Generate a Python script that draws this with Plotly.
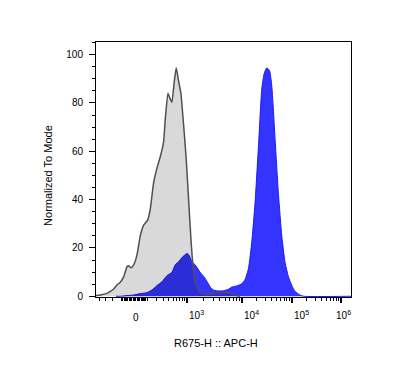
import numpy as np
import plotly.graph_objects as go

# ---- data (display-channel bins of the biexponential APC-H scale) ----
gray_ch = [0, 4.3, 11, 14.3, 17.7, 21, 24.3, 27.7, 31, 32.7, 35, 37.7, 41, 44.3, 47.7,
           51.7, 54.3, 57.7, 61, 64.3, 67.7, 69.3, 72, 74, 76, 78.3, 80.3, 82.7, 85, 87.5,
           90.3, 92.7, 95, 97, 99.3, 102.7, 106, 111, 117.7, 124.3, 131, 134.3, 139.3, 144.3]
gray_y = [0.3, 0.5, 1.2, 2, 3, 4.7, 5.8, 8, 12.2, 12.6, 11.8, 13, 17, 25, 29.4,
          31.5, 36, 47, 53, 57.6, 64, 73, 84, 82, 80.3, 88.6, 94.5, 89, 84, 72,
          57, 40, 24, 13, 6, 2.2, 1.2, 0.8, 1, 1.5, 1.6, 1.2, 0.5, 0]

blue_ch = [20, 24.3, 31, 37.7, 44.3, 51, 56, 61, 66, 71, 76, 79.3, 82.7, 86, 91,
           92.7, 96, 99.3, 104.3, 109.3, 112, 115, 118, 123, 128, 133, 136, 141, 146, 149.3,
           152.7, 156, 159.3, 162.7, 166, 168.3, 171, 173.7, 176, 179.3, 182.7, 186, 189.3,
           192.7, 196, 199.3, 204.3, 208, 255.3]
blue_y = [0, 0, 0.3, 0.5, 1.1, 1.5, 2.6, 4.4, 6, 8.5, 9.9, 13, 14.3, 16, 17.7,
          17.3, 14.3, 13, 9.9, 7.4, 5.5, 3.5, 2.5, 2.2, 2.3, 3, 3.8, 4.3, 5.2, 7,
          11.6, 22.6, 39, 62.4, 85.8, 92, 94.5, 93.4, 87, 65, 42, 25, 14,
          8, 4.5, 2, 0.5, 0, 0]

# axis scale definition: decade values and their display channels
decade_values = [0, 1e3, 1e4, 1e5, 1e6]
decade_channels = [38.5, 91, 146, 196, 245.3]
x_tick_labels = ["0", "10<sup>3</sup>", "10<sup>4</sup>", "10<sup>5</sup>", "10<sup>6</sup>"]
y_tick_values = [0, 20, 40, 60, 80, 100]
LIN_W = 150.0


def to_channel(v):
    c0, c3 = decade_channels[0], decade_channels[1]
    if v <= 1000:
        return c0 + (c3 - c0) * np.arcsinh(v / LIN_W) / np.arcsinh(1000 / LIN_W)
    n = int(np.floor(np.log10(v)))
    i = n - 3 + 1
    lo, hi = decade_channels[i], decade_channels[min(i + 1, len(decade_channels) - 1)]
    return lo + (np.log10(v) - n) * (hi - lo)


minor_vals = ([-500, -400, -300, -200, -100] + list(range(-90, 100, 10)) +
              list(range(100, 1000, 100)) +
              [k * 10 ** n for n in (3, 4, 5) for k in range(2, 10)])
x_min = 0.0
x_max = 255.3
minor_ch = [to_channel(v) for v in minor_vals]
minor_ch = [c for c in minor_ch if x_min <= c <= x_max]
major_ch = [to_channel(v) for v in decade_values[1:]]

fig = go.Figure()
fig.add_trace(go.Scatter(
    x=blue_ch, y=blue_y, mode="lines", fill="tozeroy",
    line=dict(color="rgb(25,25,255)", width=1, shape="spline", smoothing=0.5),
    fillcolor="rgb(52,52,255)", showlegend=False, hoverinfo="skip"))
fig.add_trace(go.Scatter(
    x=gray_ch, y=gray_y, mode="lines", fill="tozeroy",
    line=dict(color="rgb(80,80,80)", width=1.5, shape="spline", smoothing=0.4),
    fillcolor="rgba(0,0,0,0.15)", showlegend=False, hoverinfo="skip"))

label_font = dict(family="Liberation Sans Narrow, Arial Narrow, Liberation Sans, Arial", size=10, color="black")

fig.update_xaxes(
    range=[x_min, x_max], showgrid=False, zeroline=False,
    showline=True, mirror=True, linecolor="black", linewidth=1,
    tickmode="array", tickvals=major_ch, ticks="outside", ticklen=5, tickwidth=1.5,
    tickcolor="black", showticklabels=False,
    minor=dict(tickmode="array", tickvals=minor_ch, ticks="outside", ticklen=3,
               tickwidth=1, tickcolor="black", showgrid=False))
fig.update_yaxes(
    range=[-0.3, 105.2], showgrid=False, zeroline=False,
    showline=True, mirror=True, linecolor="black", linewidth=1,
    tickmode="array", tickvals=y_tick_values, ticks="outside", ticklen=6, tickwidth=1,
    tickcolor="black", tickfont=label_font, ticklabelstandoff=4,
    minor=dict(dtick=5, tick0=0, ticks="outside", ticklen=3, tickwidth=1,
               tickcolor="black", showgrid=False))

# x tick labels
for i, (val, lab) in enumerate(zip(decade_values, x_tick_labels)):
    if i == 0:
        anchor, shift, ys = "center", 2, -3
    elif i == len(decade_values) - 1:
        anchor, shift, ys = "center", 2, 0
    else:
        anchor, shift, ys = "left", 0, 0
    fig.add_annotation(x=to_channel(val), xref="x", y=-0.035, yref="paper",
                       text=lab, showarrow=False, xanchor=anchor, yanchor="top",
                       xshift=shift, yshift=ys - 1, font=label_font)

title_font = dict(family="Liberation Sans, Arial", size=11, color="black")
fig.add_annotation(x=0.471, y=-0.182, xref="paper", yref="paper", text="R675-H :: APC-H",
                   showarrow=False, xanchor="center", yanchor="middle", font=title_font)
fig.add_annotation(x=-0.189, y=0.478, xref="paper", yref="paper", text="Normalized To Mode",
                   showarrow=False, xanchor="center", yanchor="middle", textangle=-90,
                   font=title_font)

# page body has an 8px margin, so the figure is 8px smaller and margins shifted
fig.update_layout(
    width=385, height=373, margin=dict(l=87.5, r=42, t=34, b=84),
    paper_bgcolor="white", plot_bgcolor="white")

fig.write_html("out.html")
